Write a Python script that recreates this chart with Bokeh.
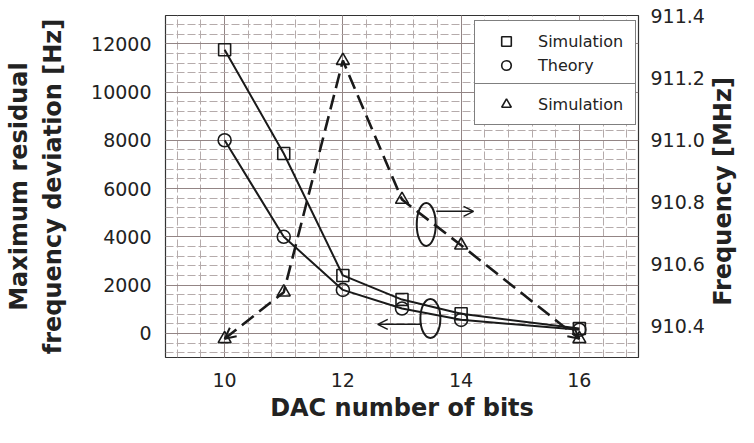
import math
from bokeh.plotting import figure
from bokeh.models import (Range1d, LinearAxis, SingleIntervalTicker, FixedTicker,
                          PrintfTickFormatter, Legend, LegendItem, Arrow, OpenHead, Label)
from bokeh.embed import file_html
from bokeh.resources import INLINE

# ---- data ----
dac_bits = [10, 11, 12, 13, 14, 16]
sim_dev_hz = [11750, 7450, 2400, 1400, 810, 200]
theory_dev_hz = [8000, 4000, 1800, 1030, 560, 150]
sim_freq_mhz = [910.36, 910.51, 911.255, 910.808, 910.661, 910.36]

left_ticks = [0, 2000, 4000, 6000, 8000, 10000, 12000]
right_ticks = [910.4, 910.6, 910.8, 911.0, 911.2, 911.4]
x_ticks = [10, 12, 14, 16]

# annotation anchors (ellipse + arrow markers of which axis a curve uses)
ell_right = dict(x=13.41, y=910.728, w=19, h=43)
arrow_right = dict(x0=13.58, x1=14.21, y=910.77)
ell_left = dict(x=13.48, y=620, w=20, h=39)
arrow_left = dict(x0=13.33, x1=12.59, y=373)

FONT = "DejaVu Sans"
INK = "#1a1a1a"
TXT = "#222222"

p = figure(width=738, height=427, x_range=Range1d(9, 17), y_range=Range1d(-1000, 13170),
           output_backend="svg", toolbar_location=None,
           min_border_left=165, min_border_right=100, min_border_top=15, min_border_bottom=70)
p.extra_y_ranges = {"right": Range1d(910.3, 911.4)}

p.outline_line_color = "#333333"
p.outline_line_width = 1.2
p.background_fill_color = "white"
p.border_fill_color = "white"

# x axis
p.xaxis.ticker = SingleIntervalTicker(interval=2, num_minor_ticks=5)
p.xaxis.axis_label = "DAC number of bits"
# left axis
p.yaxis.ticker = SingleIntervalTicker(interval=2000, num_minor_ticks=5)
p.yaxis.axis_label = "Maximum residual\nfrequency deviation [Hz]"

right_axis = LinearAxis(y_range_name="right", ticker=FixedTicker(ticks=right_ticks),
                        formatter=PrintfTickFormatter(format="%.1f"))
p.add_layout(right_axis, "right")

for ax in [p.xaxis[0], p.yaxis[0], right_axis]:
    ax.axis_line_color = None
    ax.major_tick_line_color = None
    ax.minor_tick_line_color = None
    ax.major_tick_out = 0
    ax.major_tick_in = 0
    ax.minor_tick_out = 0
    ax.minor_tick_in = 0
    ax.major_label_text_font = FONT
    ax.major_label_text_font_size = "19px"
    ax.major_label_text_color = TXT
    ax.axis_label_text_font = FONT
    ax.axis_label_text_font_size = "24px"
    ax.axis_label_text_font_style = "bold"
    ax.axis_label_text_color = TXT

p.xaxis.major_label_standoff = 15
p.xaxis.axis_label_standoff = 4
p.yaxis.major_label_standoff = 14
p.yaxis.axis_label_standoff = 21
right_axis.major_label_standoff = 12

# right axis title in its own side panel, reading bottom-to-top
p.add_layout(Label(x=15, y=166, x_units="screen", y_units="screen",
                   text="Frequency [MHz]", angle=math.pi / 2,
                   text_align="center", text_baseline="middle",
                   text_font=FONT, text_font_size="24px", text_font_style="bold",
                   text_color=TXT), "right")

# grids
MAJ = "#938585"
MIN = "#b5abab"
for g in [p.xgrid[0], p.ygrid[0]]:
    g.grid_line_color = MAJ
    g.grid_line_width = 1
    g.minor_grid_line_color = MIN
    g.minor_grid_line_width = 1
    g.minor_grid_line_dash = "8 3"

# series
p.line(dac_bits, sim_dev_hz, line_color=INK, line_width=2)
sq = p.scatter(dac_bits, sim_dev_hz, marker="square", size=12, fill_alpha=0,
               line_color=INK, line_width=1.6)
p.line(dac_bits, theory_dev_hz, line_color=INK, line_width=2)
ci = p.scatter(dac_bits, theory_dev_hz, marker="circle", size=13, fill_alpha=0,
               line_color=INK, line_width=1.6)
p.line(dac_bits, sim_freq_mhz, line_color=INK, line_width=2.6, line_dash="15 7",
       y_range_name="right")
tr = p.scatter(dac_bits, sim_freq_mhz, marker="triangle", size=13, fill_alpha=0,
               line_color=INK, line_width=1.6, y_range_name="right")

# arrowheads at both ends of the dashed curve
p.add_layout(Arrow(end=OpenHead(size=11, line_color=INK, line_width=2),
                   x_start=dac_bits[1], y_start=sim_freq_mhz[1],
                   x_end=dac_bits[0], y_end=sim_freq_mhz[0],
                   line_alpha=0, y_range_name="right"))
p.add_layout(Arrow(end=OpenHead(size=11, line_color=INK, line_width=2),
                   x_start=dac_bits[4], y_start=sim_freq_mhz[4],
                   x_end=dac_bits[5], y_end=sim_freq_mhz[5],
                   line_alpha=0, y_range_name="right"))

# ellipses and axis arrows
p.ellipse(x=[ell_right["x"]], y=[ell_right["y"]], width=ell_right["w"], height=ell_right["h"],
          width_units="screen", height_units="screen", fill_alpha=0,
          line_color=INK, line_width=2, y_range_name="right")
p.add_layout(Arrow(end=OpenHead(size=10, line_color=INK, line_width=1.5),
                   x_start=arrow_right["x0"], y_start=arrow_right["y"],
                   x_end=arrow_right["x1"], y_end=arrow_right["y"],
                   line_color=INK, line_width=1.5, y_range_name="right"))
p.ellipse(x=[ell_left["x"]], y=[ell_left["y"]], width=ell_left["w"], height=ell_left["h"],
          width_units="screen", height_units="screen", fill_alpha=0,
          line_color=INK, line_width=2)
p.add_layout(Arrow(end=OpenHead(size=10, line_color=INK, line_width=1.5),
                   x_start=arrow_left["x0"], y_start=arrow_left["y"],
                   x_end=arrow_left["x1"], y_end=arrow_left["y"],
                   line_color=INK, line_width=1.5))

# legends (two stacked boxes)
def make_legend(items, loc):
    lg = Legend(items=items, location=loc, margin=0, padding=8, spacing=0,
                glyph_width=46, glyph_height=24, label_height=24, label_width=89,
                label_standoff=9, border_line_color="black", border_line_width=1,
                background_fill_color="white", background_fill_alpha=1,
                label_text_font=FONT, label_text_font_size="16px",
                label_text_color=TXT)
    return lg

leg1 = make_legend([LegendItem(label="Simulation", renderers=[sq]),
                    LegendItem(label="Theory", renderers=[ci])], (309, 271))
leg2 = make_legend([LegendItem(label="Simulation", renderers=[tr])], (309, 232))
p.add_layout(leg1)
p.add_layout(leg2)

open("out.html", "w").write(file_html(p, INLINE))
